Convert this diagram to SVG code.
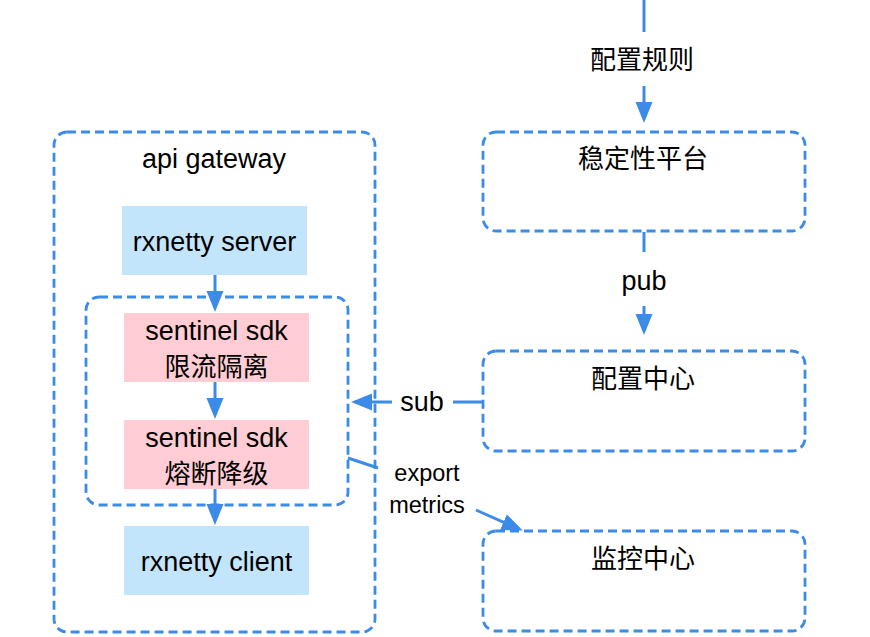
<svg xmlns="http://www.w3.org/2000/svg" width="870" height="637" viewBox="0 0 870 637">
<style>
.dash{fill:none;stroke:#3d8be9;stroke-width:2.8;stroke-dasharray:9 5}
.blue{fill:#c2e5fc}
.pink{fill:#ffcdd3}
.t{font-family:"Liberation Sans","Noto Sans CJK SC",sans-serif;font-size:27px;fill:#000;text-anchor:middle}
.c{font-family:"Noto Sans CJK SC","Liberation Sans",sans-serif;font-size:26px;fill:#000;text-anchor:middle}
.l{font-family:"Liberation Sans","Noto Sans CJK SC",sans-serif;font-size:23.5px;fill:#000;text-anchor:middle}
.conn{fill:none;stroke:#3d8be9;stroke-width:3}
</style>
<defs>
<marker id="arr" markerUnits="userSpaceOnUse" markerWidth="22" markerHeight="18" refX="17" refY="8.5" orient="auto">
<path d="M0,0 L21,8.5 L0,17 z" fill="#3d8be9"/>
</marker>
</defs>
<rect width="870" height="637" fill="#fff"/>
<g id="api-gateway">
<rect class="dash" x="54" y="132" width="321" height="500" rx="13"/>
<text class="t" x="214" y="168">api gateway</text>
</g>
<g id="sentinel-group">
<rect class="dash" x="86" y="297" width="262" height="208" rx="13"/>
</g>
<g id="rxnetty-server">
<rect class="blue" x="122" y="206" width="185" height="69"/>
<text class="t" x="214.5" y="251">rxnetty server</text>
</g>
<g id="sentinel-limit">
<rect class="pink" x="124" y="313" width="185" height="69"/>
<text class="t" x="216.5" y="340">sentinel sdk</text>
<text class="c" x="216.5" y="376">限流隔离</text>
</g>
<g id="sentinel-break">
<rect class="pink" x="124" y="420" width="185" height="69"/>
<text class="t" x="216.5" y="447">sentinel sdk</text>
<text class="c" x="216.5" y="483">熔断降级</text>
</g>
<g id="rxnetty-client">
<rect class="blue" x="124" y="526" width="185" height="69"/>
<text class="t" x="216.5" y="571">rxnetty client</text>
</g>
<g id="stability-platform">
<rect class="dash" x="483" y="132" width="322" height="99" rx="13"/>
<text class="c" x="643" y="168">稳定性平台</text>
</g>
<g id="config-center">
<rect class="dash" x="483" y="351" width="322" height="100" rx="13"/>
<text class="c" x="643" y="388">配置中心</text>
</g>
<g id="monitor-center">
<rect class="dash" x="483" y="531" width="322" height="100" rx="13"/>
<text class="c" x="643" y="568">监控中心</text>
</g>
<g id="connectors">
<path class="conn" d="M644,0 V32 M644,86 V119" marker-end="url(#arr)"/>
<text class="c" x="642" y="69">配置规则</text>
<path class="conn" d="M644,232 V252 M644,306 V331" marker-end="url(#arr)"/>
<text class="t" x="644" y="290">pub</text>
<path class="conn" d="M483,402 H453 M392,402 H355" marker-end="url(#arr)"/>
<text class="t" x="422" y="411">sub</text>
<path class="conn" d="M348,458 L378,468 M476,510 L519,529" marker-end="url(#arr)"/>
<text class="l" x="427" y="481">export</text>
<text class="l" x="427" y="513">metrics</text>
<path class="conn" d="M215,275 V308" marker-end="url(#arr)"/>
<path class="conn" d="M215,382 V415" marker-end="url(#arr)"/>
<path class="conn" d="M215,489 V521" marker-end="url(#arr)"/>
</g>
</svg>
